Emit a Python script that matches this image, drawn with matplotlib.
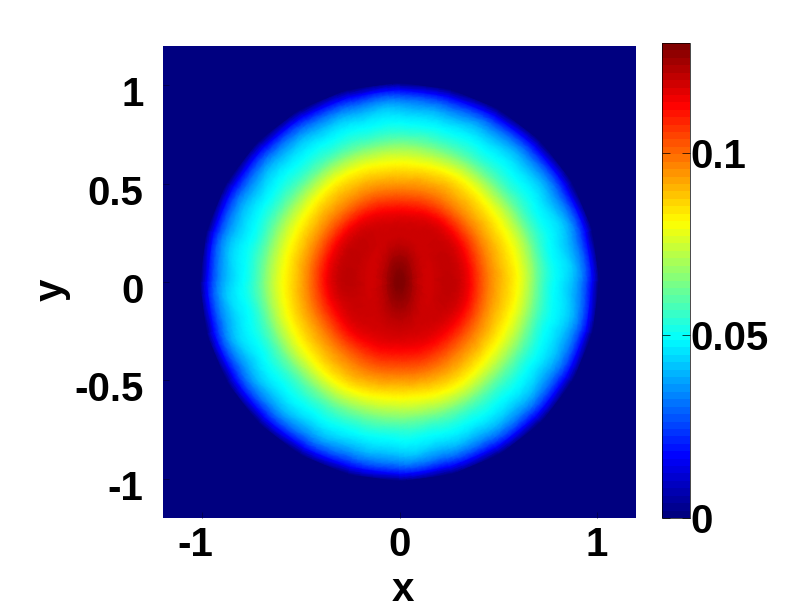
import numpy as np
import matplotlib
matplotlib.use('Agg')
import matplotlib.pyplot as plt
import matplotlib.tri as mtri
from matplotlib.colors import LinearSegmentedColormap
from matplotlib.transforms import ScaledTranslation

plt.rcParams['font.family'] = ['Liberation Sans', 'DejaVu Sans']
plt.rcParams['font.weight'] = 'bold'
plt.rcParams['axes.unicode_minus'] = False

# value levels, and where each level sits (radius)
# every 15 degrees counter clockwise from +x
angles_deg = np.arange(0, 360, 15)
centre_value = 0.130
level_values = [0.0, 0.0163, 0.049, 0.065, 0.0816, 0.098, 0.114, 0.120, 0.125]
r_0000 = [1.01, 1.01, 1.01, 1.01, 1.01, 1.01, 1.01, 1.01, 1.01, 1.01, 1.01, 1.01,
          1.01, 1.01, 1.01, 1.01, 1.01, 1.01, 1.01, 1.01, 1.01, 1.01, 1.01, 1.01]
r_0163 = [.975, .975, .97, .97, .97, .97, .975, .97, .97, .97, .97, .975,
          .975, .975, .97, .97, .97, .97, .975, .97, .97, .97, .97, .975]
r_0490 = [.79, .79, .79, .795, .80, .805, .81, .805, .80, .795, .79, .79,
          .795, .79, .79, .795, .80, .80, .805, .80, .80, .795, .79, .79]
r_0650 = [.685, .685, .68, .68, .69, .695, .70, .695, .69, .68, .68, .68,
          .685, .68, .68, .68, .69, .69, .69, .69, .69, .68, .68, .68]
r_0816 = [.594, .59, .585, .59, .605, .602, .60, .602, .603, .59, .58, .58,
          .583, .585, .585, .59, .60, .593, .586, .593, .598, .585, .58, .585]
r_0980 = [.45, .45, .455, .46, .47, .475, .47, .475, .47, .465, .46, .46,
          .46, .46, .455, .46, .47, .475, .47, .475, .47, .46, .455, .45]
r_1140 = [.355, .355, .36, .365, .37, .365, .36, .365, .37, .37, .37, .37,
          .37, .36, .35, .35, .345, .345, .34, .345, .345, .345, .35, .355]
r_1200 = [.175, .18, .19, .20, .22, .24, .255, .24, .22, .20, .19, .18,
          .175, .18, .19, .20, .22, .24, .25, .24, .22, .20, .19, .18]
r_1250 = [.06, .065, .07, .08, .10, .125, .135, .125, .10, .08, .07, .065,
          .06, .065, .07, .08, .10, .125, .135, .125, .10, .08, .07, .065]
rings = [r_0000, r_0163, r_0490, r_0650, r_0816, r_0980, r_1140, r_1200, r_1250]

xticks = [-1, 0, 1]
xticklabels = ['-1', '0', '1']
yticks = [-1, -0.5, 0, 0.5, 1]
yticklabels = ['-1', '-0.5', '0', '0.5', '1']
cbar_ticks = [0, 0.05, 0.1]
cbar_labels = ['0', '0.05', '0.1']

# old matlab jet, matplotlib's own has its corners elsewhere
jet_anchors = [(0, (0, 0, .5)), (.125, (0, 0, 1)), (.375, (0, 1, 1)),
               (.625, (1, 1, 0)), (.875, (1, 0, 0)), (1, (.5, 0, 0))]
jet_smooth = LinearSegmentedColormap.from_list('mjet', jet_anchors, N=256)
jet_64 = LinearSegmentedColormap.from_list('mjet64', jet_anchors, N=64)

W, H = 793, 608
fig = plt.figure(figsize=(W / 100, H / 100), dpi=100)
ax = fig.add_axes([163 / W, 1 - 518 / H, 473 / W, 472 / H])
cax = fig.add_axes([662 / W, 1 - 518 / H, 28 / W, 475 / H])

# mesh of quads between neighbouring rings, last vertex is the centre
theta = np.deg2rad(angles_deg)
n_a = len(theta)
n_r = len(rings)
r = np.array(rings)
px = (r * np.cos(theta)).ravel()
py = (r * np.sin(theta)).ravel()
vals = np.repeat(level_values, n_a)
px = np.append(px, 0.0)
py = np.append(py, 0.0)
vals = np.append(vals, centre_value)
centre = len(px) - 1

tris = []
for i in range(n_r - 1):
    for j in range(n_a):
        k = (j + 1) % n_a
        a, b = i * n_a + j, i * n_a + k
        c, d = (i + 1) * n_a + j, (i + 1) * n_a + k
        tris.append([a, b, d])
        tris.append([a, d, c])
for j in range(n_a):
    tris.append([(n_r - 1) * n_a + j, (n_r - 1) * n_a + (j + 1) % n_a, centre])
tri = mtri.Triangulation(px, py, tris)

# finer mesh so the facets of the coarse one do not show
tri_fine, vals_fine = mtri.UniformTriRefiner(tri).refine_field(vals, subdiv=3)
vals_fine = np.clip(vals_fine, 0, centre_value)

ax.set_facecolor(jet_smooth(0))
pc = ax.tripcolor(tri_fine, vals_fine, shading='gouraud', cmap=jet_smooth, vmin=0, vmax=centre_value)

ax.set_xlim(-1.2, 1.2)
ax.set_ylim(-1.2, 1.2)
ax.set_xticks(xticks)
ax.set_xticklabels(xticklabels)
ax.set_yticks(yticks)
ax.set_yticklabels(yticklabels)
ax.tick_params(direction='in', length=4, width=0.5, labelsize=29, color='#000040')
ax.tick_params(axis='x', pad=6)
ax.tick_params(axis='y', pad=14)
for s in ax.spines.values():
    s.set_visible(False)

# labels sit a bit off their ticks in the original
down = ScaledTranslation(0, -6 / 100, fig.dpi_scale_trans)
for t in ax.get_yticklabels():
    t.set_transform(t.get_transform() + down)
left = ScaledTranslation(-7 / 100, 0, fig.dpi_scale_trans)
first = ax.get_xticklabels()[0]
first.set_transform(first.get_transform() + left)

sm = plt.cm.ScalarMappable(norm=plt.Normalize(0, centre_value), cmap=jet_64)
cb = fig.colorbar(sm, cax=cax, ticks=cbar_ticks)
cb.ax.set_yticklabels(cbar_labels)
cb.ax.tick_params(direction='in', length=6, width=0.5, labelsize=29, pad=0, left=True, right=True)
cb.outline.set_linewidth(0.5)

fig.text(403 / W, 1 - 590 / H, 'x', fontsize=29, ha='center', va='center')
fig.text(52 / W, 1 - 290 / H, 'y', fontsize=29, ha='center', va='center', rotation=90)

fig.savefig('out.png', dpi=100)
